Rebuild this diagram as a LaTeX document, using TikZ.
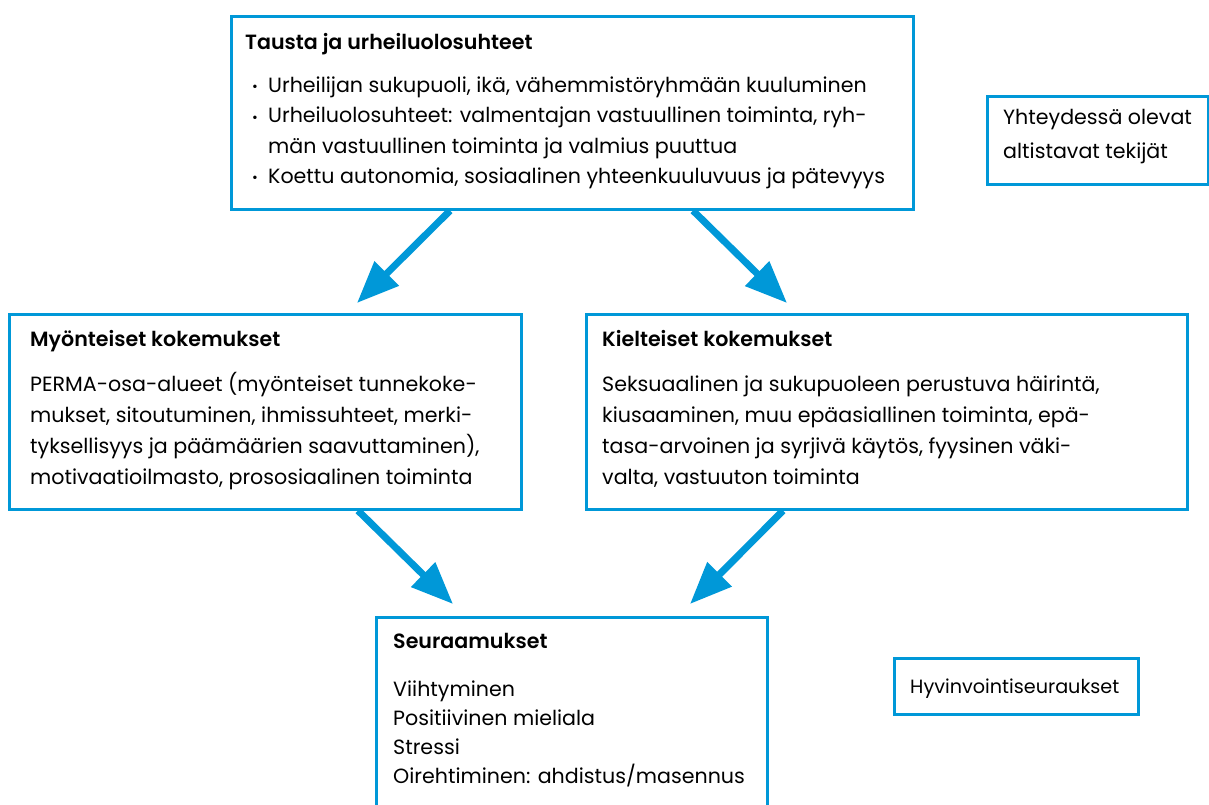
\documentclass[tikz,border=0pt]{standalone}
\usepackage{fontspec}
\setmainfont{Poppins}[BoldFont={Poppins SemiBold}]
\usepackage{tikz}
\usetikzlibrary{arrows.meta, positioning, calc}
\usepackage{xcolor}
\definecolor{boxblue}{RGB}{0,152,216}
\newcommand{\bul}{\makebox[16pt][l]{\raisebox{1pt}{\fontsize{14}{14}\selectfont •}}}

\begin{document}
\begin{tikzpicture}[x=1pt, y=-1pt,
    box/.style={draw=boxblue, line width=2.6pt, anchor=north west, inner sep=0pt},
    head/.style={anchor=base west, inner sep=0pt, font=\fontsize{20.6}{30}\selectfont\bfseries},
    body/.style={anchor=base west, inner sep=0pt, align=left, font=\fontsize{20.6}{30}\selectfont},
    flow/.style={draw=boxblue, line width=7pt, -{Triangle[length=42pt, width=33pt]}}]
  \useasboundingbox (0,0) rectangle (1209,805);
  \clip (0,0) rectangle (1209,805);
  % boxes
  \node[box, minimum width=682pt, minimum height=193pt] (tausta) at (230,15) {};
  \node[box, minimum width=221pt, minimum height=88pt] (altist) at (986,95) {};
  \node[box, minimum width=512pt, minimum height=195pt] (myont) at (8,313) {};
  \node[box, minimum width=601pt, minimum height=195pt] (kielt) at (585,313) {};
  \node[box, minimum width=391pt, minimum height=210pt] (seur) at (375,616) {};
  \node[box, minimum width=244pt, minimum height=56pt] (hyvin) at (893,657) {};
  % texts
  \node[head] (tausta-h) at (245,50) {Tausta ja urheiluolosuhteet};
  \node[body] (tausta-b) at (252,183) {\bul Urheilijan sukupuoli, ikä, vähemmistöryhmään kuuluminen\\
    \bul Urheiluolosuhteet: valmentajan vastuullinen toiminta, ryh-\\
    \hspace*{16pt}män vastuullinen toiminta ja valmius puuttua\\
    \bul Koettu autonomia, sosiaalinen yhteenkuuluvuus ja pätevyys};
  \node[body, font=\fontsize{20.6}{34}\selectfont] (altist-b) at (1003,159) {Yhteydessä olevat\\altistavat tekijät};
  \node[head] (myont-h) at (30,346) {Myönteiset kokemukset};
  \node[body, font=\fontsize{20.6}{31}\selectfont] (myont-b) at (30,484) {PERMA-osa-alueet (myönteiset tunnekoke-\\
    mukset, sitoutuminen, ihmissuhteet, merki-\\
    tyksellisyys ja päämäärien saavuttaminen),\\
    motivaatioilmasto, prososiaalinen toiminta};
  \node[head] (kielt-h) at (602,346) {Kielteiset kokemukset};
  \node[body, font=\fontsize{20.6}{31}\selectfont] (kielt-b) at (602,484) {Seksuaalinen ja sukupuoleen perustuva häirintä,\\
    kiusaaminen, muu epäasiallinen toiminta, epä-\\
    tasa-arvoinen ja syrjivä käytös, fyysinen väki-\\
    valta, vastuuton toiminta};
  \node[head] (seur-h) at (393,648) {Seuraamukset};
  \node[body, font=\fontsize{20.6}{29}\selectfont] (seur-b) at (393,783) {Viihtyminen\\Positiivinen mieliala\\Stressi\\Oirehtiminen: ahdistus/masennus};
  \node[body, font=\fontsize{19.2}{29}\selectfont] (hyvin-b) at (910,693) {Hyvinvointiseuraukset};
  % arrows
  \draw[flow] ([xshift=220pt]tausta.south west) -- ([xshift=349pt, yshift=10pt]myont.north west);
  \draw[flow] ([xshift=463pt]tausta.south west) -- ([xshift=202pt, yshift=10pt]kielt.north west);
  \draw[flow] ([xshift=350pt]myont.south west) -- ([xshift=78pt, yshift=12pt]seur.north west);
  \draw[flow] ([xshift=198pt]kielt.south west) -- ([xshift=315pt, yshift=12pt]seur.north west);
\end{tikzpicture}
\end{document}
